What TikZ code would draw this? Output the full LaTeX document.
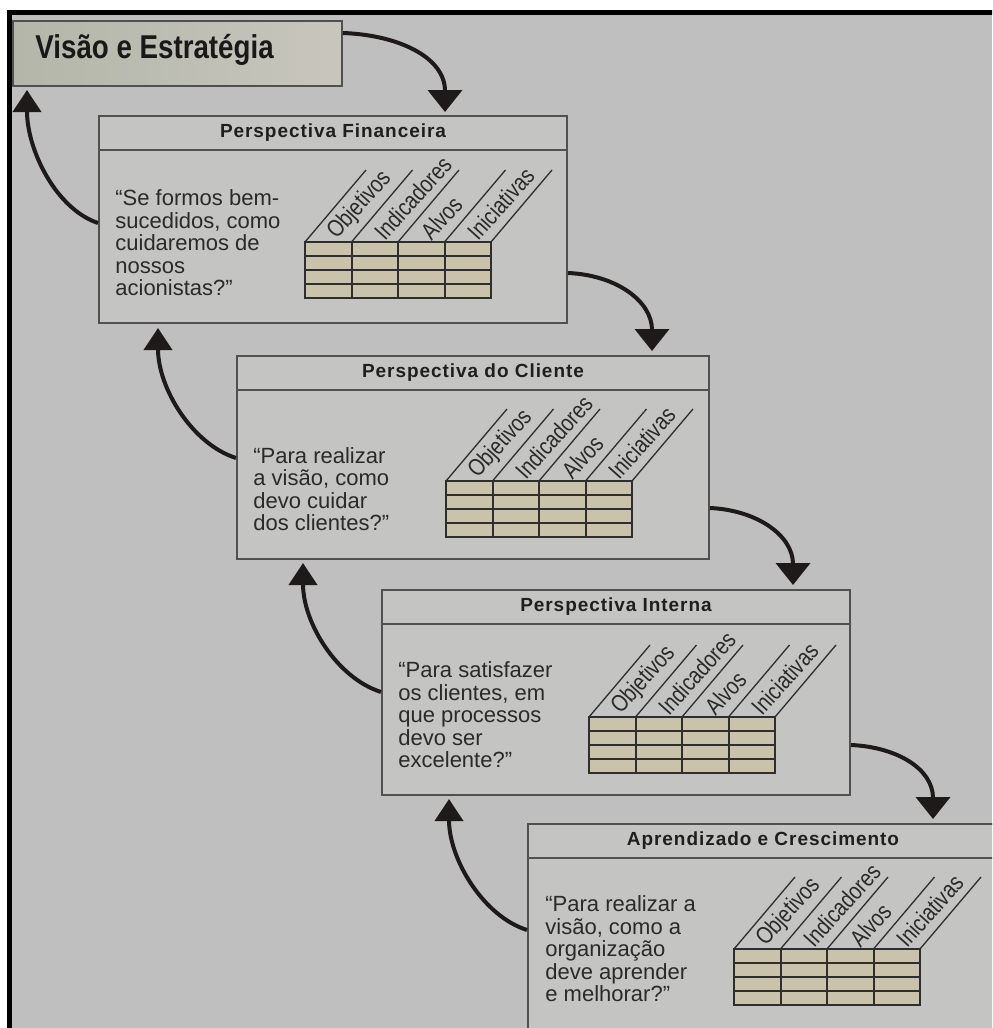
\documentclass[tikz,border=0pt]{standalone}
\usepackage{fontspec}
\setmainfont{Liberation Sans}
\newfontfamily\titlefont[FakeStretch=0.84]{Liberation Sans}
\newfontfamily\headfont[LetterSpace=5]{Liberation Sans}
\newfontfamily\colfont[FakeStretch=0.82]{Liberation Sans}
\usetikzlibrary{arrows.meta,calc}

\definecolor{pagegray}{HTML}{BFBFBF}
\definecolor{boxgray}{HTML}{C4C4C2}
\definecolor{edgegray}{HTML}{505050}
\definecolor{cellfill}{HTML}{C9C3AC}
\definecolor{gridline}{HTML}{2E2E2E}
\definecolor{inkcol}{HTML}{1E1A1A}
\definecolor{textcol}{HTML}{2A2A2A}
\definecolor{visleft}{HTML}{B3B6A9}
\definecolor{visright}{HTML}{C8C6BD}

\tikzset{
  persp/.style={draw=edgegray, line width=1pt, fill=boxgray, inner sep=0pt,
    anchor=north west},
  header/.style={draw=edgegray, line width=1pt, inner sep=0pt, anchor=north west,
    minimum height=17pt, font=\headfont\bfseries\fontsize{9.5}{11}\selectfont,
    text=black!88},
  question/.style={anchor=west, align=left, inner sep=0pt, text=textcol,
    font=\fontsize{11}{11.25}\selectfont},
  collbl/.style={anchor=west, rotate=48, inner sep=0pt, text=textcol,
    font=\colfont\fontsize{12}{13}\selectfont},
  flow/.style={draw=inkcol, line width=2pt, -{Triangle[width=17pt,length=11pt]}},
  backflow/.style={draw=inkcol, line width=2pt, -{Triangle[width=14pt,length=11pt]}},
  grid/.style={draw=gridline, line width=1pt},
  slant/.style={draw=gridline, line width=0.65pt},
  % the little 3-D table of objectives, indicators, targets and initiatives
  bsctable/.pic={
    \fill[cellfill] (0,0) rectangle (186,56);
    \foreach \r in {14,28,42} \draw[grid] (0,\r) -- (186,\r);
    \foreach \c in {46.5,93,139.5} \draw[grid] (\c,0) -- (\c,56);
    \draw[grid] (0,0) rectangle (186,56);
    \foreach \c in {0,46.5,93,139.5,186} \draw[slant] (\c,0) -- ++(61,-72);
    \node[collbl] (-c1) at (27,-6) {Objetivos};
    \node[collbl] (-c2) at (73.5,-6) {Indicadores};
    \node[collbl] (-c3) at (120,-6) {Alvos};
    \node[collbl] (-c4) at (166.5,-6) {Iniciativas};
  }
}

\begin{document}
\begin{tikzpicture}[x=0.5pt,y=-0.5pt]
\useasboundingbox (0,0) rectangle (992,1028);
\clip (0,0) rectangle (992,1028);

% page and frame
\fill[white] (0,0) rectangle (992,1028);
\fill[pagegray] (8,10) rectangle (992,1028);

% vision and strategy
\node[draw=edgegray, line width=1pt, left color=visleft, right color=visright,
  anchor=north west, inner sep=0pt, minimum width=164.5pt, minimum height=32.5pt]
  (vis) at (12,20) {};
\node[anchor=base west, inner sep=0pt, text=black!90,
  font=\titlefont\bfseries\fontsize{16.5}{18}\selectfont] (vistxt) at (35,58)
  {Visão e Estratégia};

% the four perspectives
\node[persp, minimum width=234pt, minimum height=103.5pt] (b1) at (98,115) {};
\node[header, minimum width=234pt] (h1) at (98,115) {Perspectiva Financeira};
\node[question] (q1) at (115,243)
  {“Se formos bem-\\sucedidos, como\\cuidaremos de\\nossos\\acionistas?”};
\pic (t1) at (305,242) {bsctable};

\node[persp, minimum width=236pt, minimum height=101.5pt] (b2) at (236,355) {};
\node[header, minimum width=236pt] (h2) at (236,355) {Perspectiva do Cliente};
\node[question] (q2) at (253,489)
  {“Para realizar\\a visão, como\\devo cuidar\\dos clientes?”};
\pic (t2) at (446,481) {bsctable};

\node[persp, minimum width=234pt, minimum height=102.5pt] (b3) at (381,589) {};
\node[header, minimum width=234pt] (h3) at (381,589) {Perspectiva Interna};
\node[question] (q3) at (398,715)
  {“Para satisfazer\\os clientes, em\\que processos\\devo ser\\excelente?”};
\pic (t3) at (589,717) {bsctable};

\node[persp, minimum width=235pt, minimum height=105pt] (b4) at (527,823) {};
\node[header, minimum width=235pt] (h4) at (527,823) {Aprendizado e Crescimento};
\node[question] (q4) at (545,949)
  {“Para realizar a\\visão, como a\\organização\\deve aprender\\e melhorar?”};
\pic (t4) at (734,949) {bsctable};

% downward flow
\draw[flow] ($(vis.north east)+(0,13)$) .. controls +(55,2) and +(0,-55) ..
  ($(h1.north west)+(347,-3)$);
\draw[flow] ($(b1.north east)+(0,158)$) .. controls +(48,2) and +(0,-50) ..
  ($(b2.north east)+(-58,-4)$);
\draw[flow] ($(b2.north east)+(0,153)$) .. controls +(46,2) and +(0,-50) ..
  ($(b3.north east)+(-58,-4)$);
\draw[flow] ($(b3.north east)+(0,156)$) .. controls +(46,2) and +(0,-50) ..
  ($(b4.north west)+(406,-4)$);

% feedback upward
\draw[backflow] ($(b1.north west)+(0,108)$) .. controls +(-42,-14) and +(0,60) ..
  ($(vis.south west)+(15,3)$);
\draw[backflow] ($(b2.north west)+(0,103)$) .. controls +(-44,-14) and +(0,60) ..
  ($(b1.south west)+(60,4)$);
\draw[backflow] ($(b3.north west)+(0,103)$) .. controls +(-44,-14) and +(0,60) ..
  ($(b2.south west)+(67,3)$);
\draw[backflow] ($(b4.north west)+(0,107)$) .. controls +(-44,-14) and +(0,60) ..
  ($(b3.south west)+(68,3)$);

% black frame along the top and left
\draw[black, line width=2.5pt] (9.5,1030) -- (9.5,12.5) -- (994,12.5);
\end{tikzpicture}
\end{document}
